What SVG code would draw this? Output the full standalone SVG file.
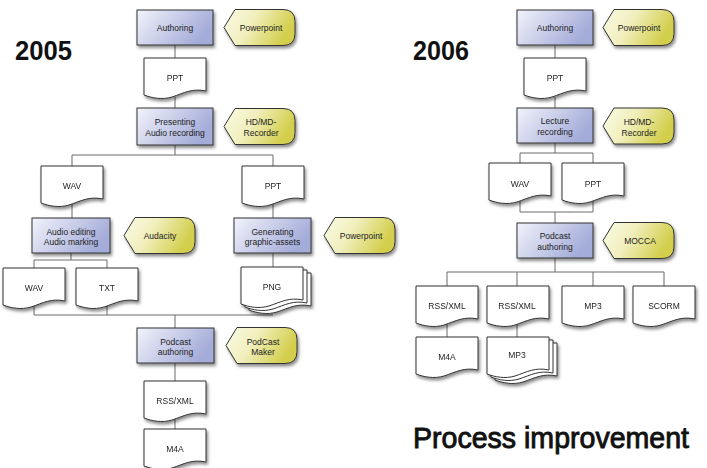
<svg xmlns="http://www.w3.org/2000/svg" xmlns:xlink="http://www.w3.org/1999/xlink" width="707" height="468" viewBox="0 0 707 468">
<style>
.box{fill:url(#gBox);stroke:#333;stroke-width:1;filter:url(#sh)}
.tag{fill:url(#gTag);stroke:#333;stroke-width:1;filter:url(#sh)}
.doc{fill:#fff;stroke:#333;stroke-width:1}
.docs{filter:url(#sh)}
.t{font-family:"Liberation Sans",Arial,sans-serif;font-size:8.5px;fill:#222;text-anchor:middle}
.title{font-family:"Liberation Sans",Arial,sans-serif;fill:#111}
.c{stroke:#6a6a6a;stroke-width:1;fill:none}
</style>
<defs>
<linearGradient id="gBox" x1="0" y1="0" x2="1" y2="0.4">
<stop offset="0" stop-color="#f2f3fb"/>
<stop offset="1" stop-color="#a4acd9"/>
</linearGradient>
<linearGradient id="gTag" x1="0" y1="0" x2="1" y2="0.3">
<stop offset="0" stop-color="#fbfbe8"/>
<stop offset="0.45" stop-color="#f1efbd"/>
<stop offset="1" stop-color="#d3ce4c"/>
</linearGradient>
<filter id="sh" x="-20%" y="-20%" width="150%" height="160%">
<feDropShadow dx="1.5" dy="2.5" stdDeviation="1.8" flood-color="#000" flood-opacity="0.45"/>
</filter>
<path id="docShape" class="doc" d="M0,0 H62 V33 C48,30 40,35 28,39 C18,42 8,40 0,37 Z"/>
<path id="tagShape" class="tag" d="M0,18 L11,0 H59 Q71,0 71,12 V24 Q71,36 59,36 H11 Z"/>
<g id="stackShape">
<use xlink:href="#docShape" x="8" y="6"/>
<use xlink:href="#docShape" x="4" y="3"/>
<use xlink:href="#docShape" x="0" y="0"/>
</g>
</defs>

<rect width="707" height="468" fill="#fff"/>

<text class="title" x="15" y="60" font-size="28" font-weight="bold" textLength="57" lengthAdjust="spacingAndGlyphs">2005</text>
<text class="title" x="413" y="60" font-size="28" font-weight="bold" textLength="56" lengthAdjust="spacingAndGlyphs">2006</text>
<text class="title" x="413" y="448" font-size="29" stroke="#111" stroke-width="0.9" textLength="276" lengthAdjust="spacingAndGlyphs">Process improvement</text>

<g id="connectors">
<path class="c" d="M175,45V58 M175,97V108 M175,145V155 M72,155H273 M72,155V166 M273,155V166 M72,204V218 M273,204V218 M71,253V260 M34,260H107 M34,260V268 M107,260V268 M273,253V268 M34,305V315 M107,305V315 M34,315H273 M175,315V328 M175,363V381 M175,419V429"/>
<path class="c" d="M555,45V58 M555,97V108 M555,143V153 M520,153H593 M520,153V163 M593,153V163 M520,201V212 M593,201V212 M520,212H593 M555,212V223 M555,258V272 M447,272H664 M447,272V286 M517,272V286 M593,272V286 M664,272V286 M447,323V337 M517,323V337"/>
</g>

<!-- 2005 -->
<g id="l-authoring"><rect class="box" x="137" y="10" width="76" height="35"/><text class="t" x="175" y="30.5">Authoring</text></g>
<g id="l-powerpoint1"><use xlink:href="#tagShape" x="224" y="9.5"/><text class="t" x="261" y="30.5">Powerpoint</text></g>
<g id="l-ppt1" class="docs"><use xlink:href="#docShape" x="144" y="58"/><text class="t" x="175" y="81">PPT</text></g>
<g id="l-presenting"><rect class="box" x="137" y="108" width="76" height="37"/><text class="t" x="175" y="125">Presenting</text><text class="t" x="175" y="136">Audio recording</text></g>
<g id="l-hdmd"><use xlink:href="#tagShape" x="224" y="108.5"/><text class="t" x="261" y="125">HD/MD-</text><text class="t" x="261" y="136">Recorder</text></g>
<g id="l-wav1" class="docs"><use xlink:href="#docShape" x="41" y="166"/><text class="t" x="72" y="189">WAV</text></g>
<g id="l-ppt2" class="docs"><use xlink:href="#docShape" x="242" y="166"/><text class="t" x="273" y="189">PPT</text></g>
<g id="l-audioedit"><rect class="box" x="32" y="218" width="78" height="35"/><text class="t" x="71" y="234.5">Audio editing</text><text class="t" x="71" y="245">Audio marking</text></g>
<g id="l-audacity"><use xlink:href="#tagShape" x="124" y="217.5"/><text class="t" x="160" y="239">Audacity</text></g>
<g id="l-generating"><rect class="box" x="234" y="218" width="77" height="35"/><text class="t" x="272.5" y="234.5">Generating</text><text class="t" x="272.5" y="245">graphic-assets</text></g>
<g id="l-powerpoint2"><use xlink:href="#tagShape" x="324" y="217.5"/><text class="t" x="361" y="239">Powerpoint</text></g>
<g id="l-wav2" class="docs"><use xlink:href="#docShape" x="3" y="268"/><text class="t" x="34" y="291">WAV</text></g>
<g id="l-txt" class="docs"><use xlink:href="#docShape" x="76" y="268"/><text class="t" x="107" y="291">TXT</text></g>
<g id="l-png" class="docs"><use xlink:href="#stackShape" x="241" y="267"/><text class="t" x="272" y="290">PNG</text></g>
<g id="l-podcast"><rect class="box" x="137" y="328" width="77" height="35"/><text class="t" x="175.5" y="344.5">Podcast</text><text class="t" x="175.5" y="355">authoring</text></g>
<g id="l-podcastmaker"><use xlink:href="#tagShape" x="226" y="327.5"/><text class="t" x="263" y="344.5">PodCast</text><text class="t" x="263" y="355">Maker</text></g>
<g id="l-rss" class="docs"><use xlink:href="#docShape" x="144" y="381"/><text class="t" x="175" y="404">RSS/XML</text></g>
<g id="l-m4a" class="docs"><use xlink:href="#docShape" x="144" y="429"/><text class="t" x="175" y="452">M4A</text></g>

<!-- 2006 -->
<g id="r-authoring"><rect class="box" x="517" y="10" width="76" height="35"/><text class="t" x="555" y="30.5">Authoring</text></g>
<g id="r-powerpoint"><use xlink:href="#tagShape" x="603" y="9.5"/><text class="t" x="639" y="30.5">Powerpoint</text></g>
<g id="r-ppt1" class="docs"><use xlink:href="#docShape" x="524" y="58"/><text class="t" x="555" y="81">PPT</text></g>
<g id="r-lecture"><rect class="box" x="517" y="108" width="76" height="35"/><text class="t" x="555" y="124">Lecture</text><text class="t" x="555" y="135">recording</text></g>
<g id="r-hdmd"><use xlink:href="#tagShape" x="603" y="108"/><text class="t" x="639" y="124.5">HD/MD-</text><text class="t" x="639" y="135.5">Recorder</text></g>
<g id="r-wav" class="docs"><use xlink:href="#docShape" x="489" y="163"/><text class="t" x="520" y="187">WAV</text></g>
<g id="r-ppt2" class="docs"><use xlink:href="#docShape" x="562" y="163"/><text class="t" x="593" y="187">PPT</text></g>
<g id="r-podcast"><rect class="box" x="517" y="223" width="76" height="35"/><text class="t" x="555" y="239">Podcast</text><text class="t" x="555" y="250">authoring</text></g>
<g id="r-mocca"><use xlink:href="#tagShape" x="603" y="222.5"/><text class="t" x="640" y="244">MOCCA</text></g>
<g id="r-rss1" class="docs"><use xlink:href="#docShape" x="416" y="286"/><text class="t" x="447" y="309">RSS/XML</text></g>
<g id="r-rss2" class="docs"><use xlink:href="#docShape" x="487" y="286"/><text class="t" x="517" y="309">RSS/XML</text></g>
<g id="r-mp3" class="docs"><use xlink:href="#docShape" x="562" y="286"/><text class="t" x="593" y="309">MP3</text></g>
<g id="r-scorm" class="docs"><use xlink:href="#docShape" x="633" y="286"/><text class="t" x="664" y="309">SCORM</text></g>
<g id="r-m4a" class="docs"><use xlink:href="#docShape" x="416" y="337"/><text class="t" x="447" y="360">M4A</text></g>
<g id="r-mp3stack" class="docs"><use xlink:href="#stackShape" x="487" y="337"/><text class="t" x="517" y="358">MP3</text></g>
</svg>
